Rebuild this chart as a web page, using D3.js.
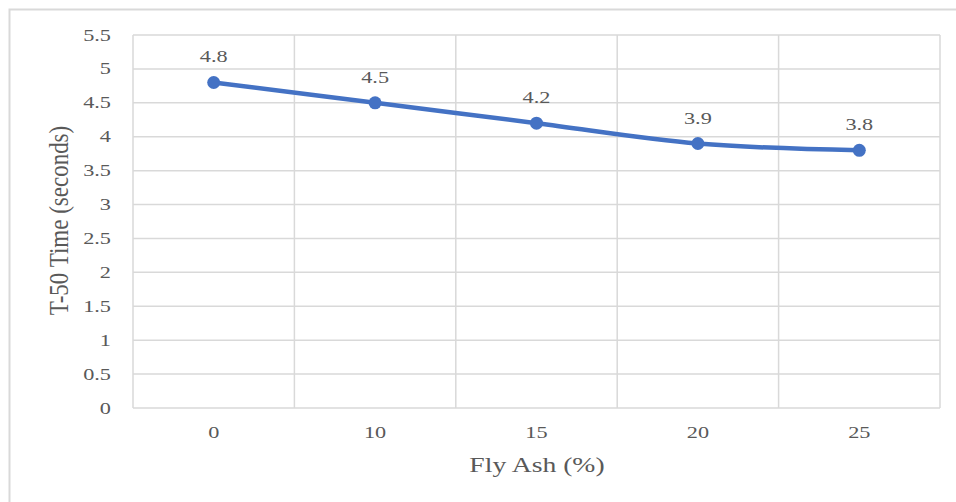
<!DOCTYPE html>
<html>
<head>
<meta charset="utf-8">
<script src="https://cdn.jsdelivr.net/npm/d3@7"></script>
<style>
  html, body { margin: 0; padding: 0; background: #fff; }
  svg { display: block; }
</style>
</head>
<body>
<svg id="chart" width="956" height="502" font-family="'Liberation Serif', 'Times New Roman', 'DejaVu Serif', serif"></svg>
<script>
// T-50 slump flow time against fly ash replacement
const flyAsh = ["0", "10", "15", "20", "25"];
const t50 = [4.8, 4.5, 4.2, 3.9, 3.8];
const yTicks = [0, 0.5, 1, 1.5, 2, 2.5, 3, 3.5, 4, 4.5, 5, 5.5];

const svg = d3.select("#chart");
const W = 956, H = 502;
const plot = { left: 133, right: 940, top: 35, bottom: 408 };
const textColor = "#595959";
const sx = 1.35; // wide glyph proportions used throughout the chart text

// places a text element at (px, py) with its glyphs widened horizontally
function wideText(sel, px, py) {
  return sel.attr("transform", (d, i) => {
    const X = typeof px === "function" ? px(d, i) : px;
    const Y = typeof py === "function" ? py(d, i) : py;
    return `translate(${X},${Y}) scale(${sx},1)`;
  });
}

// chart frame
svg.append("rect")
  .attr("x", 9.5).attr("y", 9.5)
  .attr("width", W + 20).attr("height", H + 20)
  .attr("fill", "none").attr("stroke", "#d9d9d9").attr("stroke-width", 2);

const x = d3.scaleBand().domain(flyAsh).range([plot.left, plot.right]).padding(0);
const y = d3.scaleLinear().domain([0, 5.5]).range([plot.bottom, plot.top]);

// horizontal gridlines
svg.append("g")
  .selectAll("line").data(yTicks).join("line")
  .attr("x1", plot.left).attr("x2", plot.right)
  .attr("y1", d => y(d)).attr("y2", d => y(d))
  .attr("stroke", "#d9d9d9").attr("stroke-width", 1.5);

// vertical gridlines at category boundaries
const bounds = flyAsh.map(c => x(c)).concat([x(flyAsh[flyAsh.length - 1]) + x.bandwidth()]);
svg.append("g")
  .selectAll("line").data(bounds).join("line")
  .attr("x1", d => d).attr("x2", d => d)
  .attr("y1", plot.top).attr("y2", plot.bottom)
  .attr("stroke", "#d9d9d9").attr("stroke-width", 1.5);

// y tick labels
wideText(
  svg.append("g").selectAll("text").data(yTicks).join("text"),
  111, d => y(d) + 5.5)
  .attr("text-anchor", "end")
  .attr("font-size", 16.5)
  .attr("fill", textColor)
  .text(d => d);

// x tick labels
wideText(
  svg.append("g").selectAll("text").data(flyAsh).join("text"),
  d => x(d) + x.bandwidth() / 2, 438)
  .attr("text-anchor", "middle")
  .attr("font-size", 16.5)
  .attr("fill", textColor)
  .text(d => d);

// axis titles
wideText(svg.append("text"), 537, 472)
  .attr("text-anchor", "middle")
  .attr("font-size", 20.5)
  .attr("fill", textColor)
  .text("Fly Ash (%)");

svg.append("text")
  .attr("transform", `translate(68, ${(plot.top + plot.bottom) / 2 - 1}) scale(1.2,1) rotate(-90)`)
  .attr("text-anchor", "middle")
  .attr("font-size", 23)
  .attr("fill", textColor)
  .text("T-50 Time (seconds)");

const pts = flyAsh.map((c, i) => ({ c, v: t50[i] }));
const cx = d => x(d.c) + x.bandwidth() / 2;

// smoothed series line
svg.append("path")
  .datum(pts)
  .attr("d", d3.line().x(cx).y(d => y(d.v)).curve(d3.curveCatmullRom.alpha(0.5)))
  .attr("fill", "none")
  .attr("stroke", "#4472c4")
  .attr("stroke-width", 4.5)
  .attr("stroke-linecap", "round");

// markers
svg.append("g")
  .selectAll("circle").data(pts).join("circle")
  .attr("cx", cx).attr("cy", d => y(d.v))
  .attr("r", 6.5)
  .attr("fill", "#4472c4");

// data labels
wideText(
  svg.append("g").selectAll("text").data(pts).join("text"),
  cx, d => y(d.v) - 20)
  .attr("text-anchor", "middle")
  .attr("font-size", 16.5)
  .attr("fill", textColor)
  .text(d => d.v);
</script>
</body>
</html>
